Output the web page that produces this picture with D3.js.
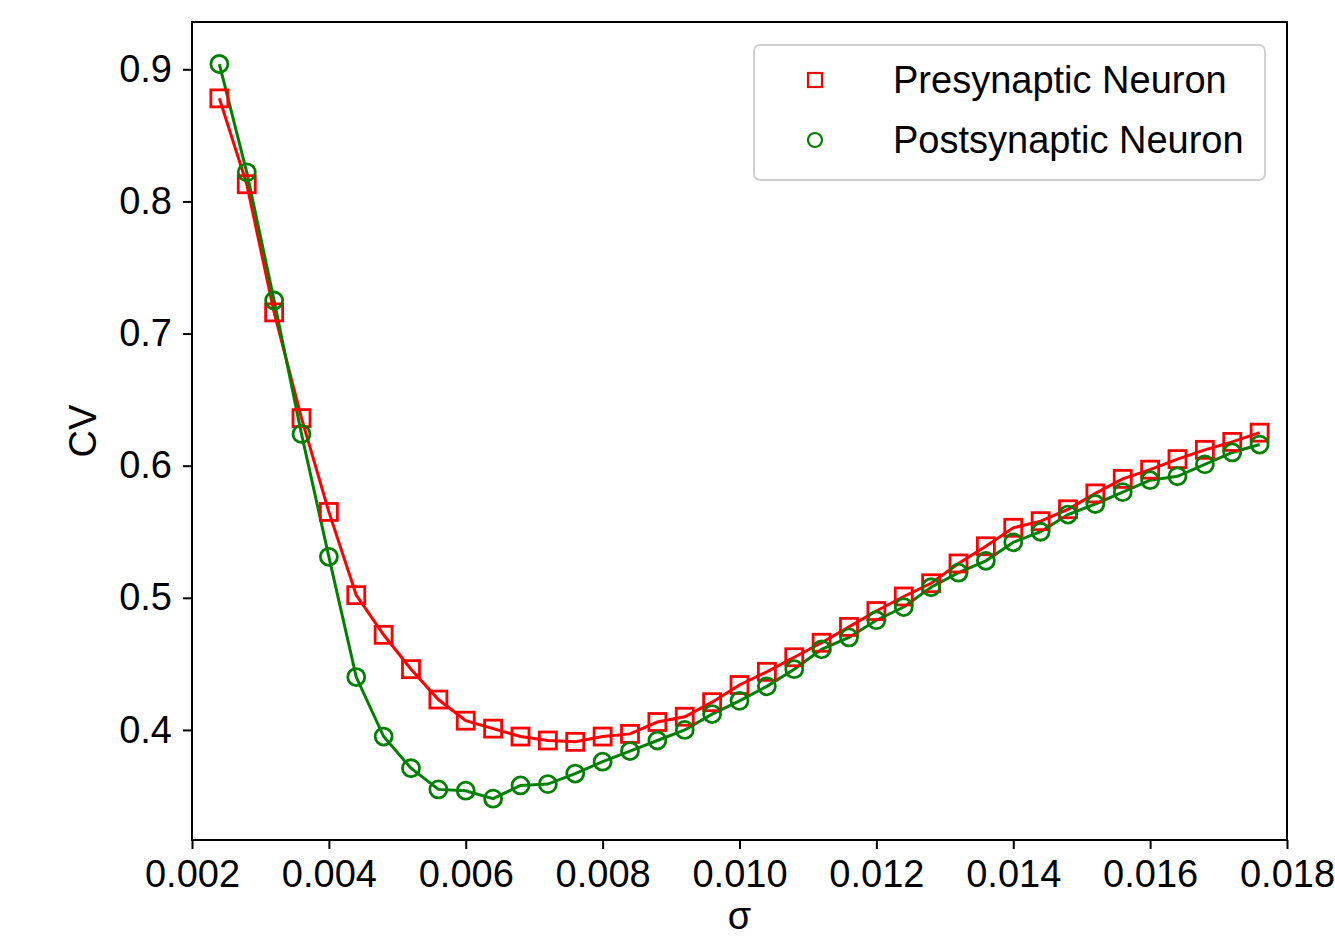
<!DOCTYPE html>
<html>
<head>
<meta charset="utf-8">
<script src="https://cdn.jsdelivr.net/npm/d3@7"></script>
<style>
  body { margin: 0; background: #fff; }
  text { font-family: "Liberation Sans", Arial, sans-serif; }
</style>
</head>
<body>
<div id="chart"></div>
<script>
/* DATA */
const sigma = [0.0024, 0.0028, 0.0032, 0.0036, 0.0040, 0.0044, 0.0048, 0.0052, 0.0056, 0.0060,
  0.0064, 0.0068, 0.0072, 0.0076, 0.0080, 0.0084, 0.0088, 0.0092, 0.0096, 0.0100,
  0.0104, 0.0108, 0.0112, 0.0116, 0.0120, 0.0124, 0.0128, 0.0132, 0.0136, 0.0140,
  0.0144, 0.0148, 0.0152, 0.0156, 0.0160, 0.0164, 0.0168, 0.0172, 0.0176];

const preCV = [0.878, 0.813, 0.716, 0.636, 0.565, 0.502, 0.472, 0.446, 0.423, 0.407,
  0.401, 0.395, 0.392, 0.391, 0.395, 0.397, 0.406, 0.410, 0.421, 0.434,
  0.444, 0.455, 0.466, 0.478, 0.490, 0.501, 0.511, 0.526, 0.539, 0.553,
  0.558, 0.567, 0.579, 0.590, 0.597, 0.605, 0.612, 0.618, 0.625];

const postCV = [0.904, 0.822, 0.725, 0.624, 0.531, 0.440, 0.395, 0.371, 0.355, 0.354,
  0.348, 0.358, 0.359, 0.367, 0.376, 0.384, 0.392, 0.400, 0.412, 0.422,
  0.433, 0.446, 0.461, 0.470, 0.483, 0.493, 0.508, 0.519, 0.528, 0.542,
  0.550, 0.563, 0.571, 0.580, 0.589, 0.592, 0.601, 0.610, 0.616];

const xTicks = [0.002, 0.004, 0.006, 0.008, 0.010, 0.012, 0.014, 0.016, 0.018];
const yTicks = [0.4, 0.5, 0.6, 0.7, 0.8, 0.9];
const seriesNames = ["Presynaptic Neuron", "Postsynaptic Neuron"];

/* CONSTANTS */
const width = 1335, height = 940;
const margin = { top: 22, bottom: 100, left: 192, right: 48 };
const red = "#ff0000", green = "#008000";

const svg = d3.select("#chart")
  .append("svg")
  .attr("width", width)
  .attr("height", height);

// scales
const xScale = d3.scaleLinear()
  .domain([0.002, 0.018])
  .range([margin.left, width - margin.right]);

const yScale = d3.scaleLinear()
  .domain([0.3167, 0.9358])
  .range([height - margin.bottom, margin.top]);

// axes
const xAxis = d3.axisBottom(xScale)
  .tickValues(xTicks)
  .tickFormat(d3.format(".3f"))
  .tickSizeOuter(0)
  .tickSize(9)
  .tickPadding(11);

const yAxis = d3.axisLeft(yScale)
  .tickValues(yTicks)
  .tickFormat(d3.format(".1f"))
  .tickSizeOuter(0)
  .tickSize(9)
  .tickPadding(11);

const xAxisGroup = svg.append("g")
  .attr("transform", `translate(0, ${height - margin.bottom})`)
  .call(xAxis);

const yAxisGroup = svg.append("g")
  .attr("transform", `translate(${margin.left}, 0)`)
  .call(yAxis);

[xAxisGroup, yAxisGroup].forEach(g => {
  g.select(".domain").remove();
  g.selectAll(".tick line").attr("stroke", "#000").attr("stroke-width", 2);
  g.selectAll(".tick text").attr("font-size", 38).attr("fill", "#000")
    .style("font-family", "'Liberation Sans', Arial, sans-serif");
});

// frame
svg.append("rect")
  .attr("x", margin.left)
  .attr("y", margin.top)
  .attr("width", width - margin.left - margin.right)
  .attr("height", height - margin.top - margin.bottom)
  .attr("fill", "none")
  .attr("stroke", "#000")
  .attr("stroke-width", 2);

// axis titles
svg.append("text")
  .attr("x", (margin.left + width - margin.right) / 2)
  .attr("y", 929)
  .attr("text-anchor", "middle")
  .attr("font-size", 38)
  .text("σ");

svg.append("text")
  .attr("transform", `translate(96, ${(margin.top + height - margin.bottom) / 2}) rotate(-90)`)
  .attr("text-anchor", "middle")
  .attr("font-size", 38)
  .text("CV");

// lines + markers
const series = [
  { name: seriesNames[0], values: preCV, color: red, shape: "square" },
  { name: seriesNames[1], values: postCV, color: green, shape: "circle" }
];

const lineGen = d3.line()
  .x((d, i) => xScale(sigma[i]))
  .y(d => yScale(d));

series.forEach(s => {
  svg.append("path")
    .datum(s.values)
    .attr("d", lineGen)
    .attr("fill", "none")
    .attr("stroke", s.color)
    .attr("stroke-width", 3);
});

series.forEach(s => {
  const g = svg.append("g");
  if (s.shape === "square") {
    g.selectAll("rect")
      .data(s.values)
      .join("rect")
      .attr("x", (d, i) => xScale(sigma[i]) - 8.5)
      .attr("y", d => yScale(d) - 8.5)
      .attr("width", 17)
      .attr("height", 17)
      .attr("fill", "none")
      .attr("stroke", s.color)
      .attr("stroke-width", 2.8);
  } else {
    g.selectAll("circle")
      .data(s.values)
      .join("circle")
      .attr("cx", (d, i) => xScale(sigma[i]))
      .attr("cy", d => yScale(d))
      .attr("r", 8.5)
      .attr("fill", "none")
      .attr("stroke", s.color)
      .attr("stroke-width", 2.8);
  }
});

// legend
const legend = svg.append("g");
legend.append("rect")
  .attr("x", 754)
  .attr("y", 45)
  .attr("width", 511)
  .attr("height", 135)
  .attr("rx", 6)
  .attr("fill", "#fff")
  .attr("stroke", "#d0d0d0")
  .attr("stroke-width", 2);

series.forEach((s, i) => {
  const cy = 80 + i * 60;
  if (s.shape === "square") {
    legend.append("rect")
      .attr("x", 815 - 7).attr("y", cy - 7)
      .attr("width", 14).attr("height", 14)
      .attr("fill", "none").attr("stroke", s.color).attr("stroke-width", 2.2);
  } else {
    legend.append("circle")
      .attr("cx", 815).attr("cy", cy).attr("r", 7)
      .attr("fill", "none").attr("stroke", s.color).attr("stroke-width", 2.2);
  }
  legend.append("text")
    .attr("x", 893)
    .attr("y", cy + 13)
    .attr("font-size", 38)
    .text(s.name);
});
</script>
</body>
</html>
